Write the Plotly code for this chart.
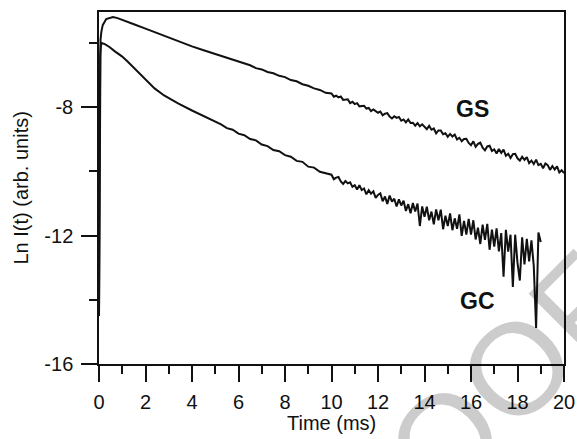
import plotly.graph_objects as go

# ---------------- data ----------------
# GS: early (smooth) part, explicit times
gs_t_early = [0.0, 0.01, 0.02, 0.035, 0.05, 0.065, 0.1, 0.16, 0.31, 0.6, 0.8, 1.0, 1.5, 2.0, 2.5,
              3.0, 3.5, 4.0, 4.5, 5.0, 5.25, 5.5, 5.75, 6.0, 6.25, 6.5, 6.75, 7.0, 7.25, 7.5,
              7.75, 8.0, 8.25, 8.5, 8.75, 9.0, 9.25, 9.5, 9.75]
gs_v_early = [-14.5, -12.0, -9.5, -7.5, -6.4, -5.9, -5.65, -5.44, -5.25, -5.19, -5.22, -5.28, -5.41,
              -5.55, -5.69, -5.82, -5.96, -6.10, -6.22, -6.34, -6.41, -6.45, -6.53, -6.57, -6.65,
              -6.69, -6.78, -6.82, -6.90, -6.94, -7.02, -7.06, -7.15, -7.19, -7.28, -7.33, -7.41,
              -7.46, -7.55]
# GS: noisy tail sampled every 0.1 ms from 10.0 to 20.0
gs_tail_start, gs_tail_step = 10.0, 0.1
gs_v_tail = [
    -7.57, -7.67, -7.64, -7.69, -7.66, -7.77, -7.77, -7.75, -7.87, -7.83,
    -7.90, -7.87, -7.97, -7.95, -7.95, -8.04, -8.02, -8.12, -8.07, -8.12,
    -8.17, -8.13, -8.25, -8.20, -8.18, -8.29, -8.35, -8.28, -8.33, -8.30,
    -8.42, -8.38, -8.47, -8.38, -8.49, -8.48, -8.57, -8.49, -8.59, -8.53,
    -8.61, -8.68, -8.58, -8.70, -8.66, -8.81, -8.72, -8.72, -8.84, -8.81,
    -8.92, -8.83, -8.91, -8.85, -9.00, -8.95, -9.06, -8.99, -8.98, -9.11,
    -9.18, -9.06, -9.23, -9.14, -9.10, -9.26, -9.34, -9.22, -9.20, -9.36,
    -9.31, -9.44, -9.30, -9.42, -9.32, -9.51, -9.45, -9.58, -9.46, -9.45,
    -9.59, -9.66, -9.54, -9.64, -9.55, -9.74, -9.66, -9.77, -9.63, -9.80,
    -9.76, -9.90, -9.75, -9.80, -9.95, -9.83, -9.94, -9.84, -10.03, -9.96,
    -10.05]

# GC: early (smooth) part
gc_t_early = [0.0, 0.01, 0.02, 0.035, 0.05, 0.08, 0.12, 0.25, 0.45, 0.67, 1.0, 1.24, 1.6, 2.0,
              2.39, 2.8, 3.4, 4.0, 4.5, 5.0, 5.25, 5.5, 5.75, 6.0, 6.25, 6.5, 6.75, 7.0, 7.25,
              7.5, 7.75, 8.0, 8.25, 8.5, 8.75, 9.0, 9.25, 9.5, 9.75]
gc_v_early = [-14.5, -12.5, -9.5, -7.2, -6.4, -6.08, -6.0, -6.03, -6.12, -6.25, -6.42, -6.58,
              -6.83, -7.12, -7.41, -7.63, -7.88, -8.10, -8.28, -8.46, -8.53, -8.65, -8.70,
              -8.82, -8.87, -8.99, -9.03, -9.16, -9.21, -9.33, -9.37, -9.49, -9.54, -9.67,
              -9.70, -9.85, -9.88, -10.01, -10.05]
# GC: noisy tail sampled every 0.1 ms from 10.0 to 19.0
gc_tail_start, gc_tail_step = 10.0, 0.1
gc_v_tail = [
    -10.10, -10.24, -10.19, -10.17, -10.31, -10.39, -10.30, -10.37, -10.34, -10.48,
    -10.43, -10.56, -10.43, -10.58, -10.53, -10.71, -10.58, -10.69, -10.62, -10.82,
    -10.73, -10.68, -10.93, -10.78, -11.01, -10.75, -10.94, -10.85, -11.09, -10.87,
    -11.06, -10.91, -11.23, -11.02, -11.30, -10.98, -11.25, -11.00, -11.70, -11.09,
    -11.41, -11.10, -11.52, -11.25, -11.65, -11.18, -11.52, -11.19, -11.80, -11.38,
    -11.70, -11.31, -11.83, -11.46, -11.79, -11.34, -12.01, -11.54, -11.97, -11.48,
    -11.97, -11.52, -12.12, -11.75, -12.26, -11.66, -12.13, -11.63, -12.44, -11.81,
    -12.34, -11.77, -12.49, -11.92, -13.28, -11.82, -12.50, -11.97, -13.60, -11.97,
    -12.85, -13.40, -12.05, -12.90, -12.10, -12.80, -12.15, -12.95, -14.88, -11.90,
    -12.20]

x_ticks = [0, 2, 4, 6, 8, 10, 12, 14, 16, 18, 20]
y_ticks = [-16, -12, -8]
labels = ["GS", "GC"]
label_pos_t = [16.06, 16.3]
label_pos_v = [-8.06, -14.04]
x_title = "Time (ms)"
y_title = "Ln I(t) (arb. units)"
watermark = "PROOF"

# ---------------- build series ----------------
gs_t = gs_t_early + [round(gs_tail_start + i * gs_tail_step, 3) for i in range(len(gs_v_tail))]
gs_v = gs_v_early + gs_v_tail
gc_t = gc_t_early + [round(gc_tail_start + i * gc_tail_step, 3) for i in range(len(gc_v_tail))]
gc_v = gc_v_early + gc_v_tail

FONT = "Liberation Sans, Arial, Helvetica, sans-serif"
INK = "#111111"
fig = go.Figure()

# faint diagonal proof watermark (only its end is inside the page)
fig.add_annotation(xref="paper", yref="paper", x=0.744, y=-0.216, text=watermark,
                   showarrow=False, xanchor="center", yanchor="middle", textangle=-45,
                   font=dict(family=FONT, size=130, color="rgba(0,0,0,0.2)"))

for t, v in [(gc_t, gc_v), (gs_t, gs_v)]:
    fig.add_trace(go.Scatter(x=t, y=v, mode="lines",
                             line=dict(color=INK, width=2),
                             showlegend=False, hoverinfo="skip"))

for txt, tx, ty in zip(labels, label_pos_t, label_pos_v):
    fig.add_annotation(x=tx, y=ty, text="<b>%s</b>" % txt, showarrow=False,
                       font=dict(family=FONT, size=23, color=INK))

# axis titles as paper annotations
fig.add_annotation(xref="paper", yref="paper", x=0.5, y=-0.169, text=x_title,
                   showarrow=False, xanchor="center", yanchor="middle",
                   font=dict(family=FONT, size=20, color=INK))
fig.add_annotation(xref="paper", yref="paper", x=-0.168, y=0.501, text=y_title,
                   showarrow=False, xanchor="center", yanchor="middle", textangle=-90,
                   font=dict(family=FONT, size=20, color=INK))

fig.update_layout(
    width=577, height=439,
    margin=dict(l=99, r=13, t=12, b=75, autoexpand=False),
    paper_bgcolor="white", plot_bgcolor="white",
    font=dict(family=FONT, size=20, color=INK),
)
fig.update_xaxes(
    range=[0, 20], tickvals=x_ticks, ticktext=[str(v) for v in x_ticks],
    ticks="outside", ticklen=16, tickwidth=1.5, tickcolor=INK,
    minor=dict(dtick=1, tick0=0, ticks="outside", ticklen=8, tickwidth=1.5, tickcolor=INK),
    showline=True, linecolor=INK, linewidth=1.5, mirror=True,
    showgrid=False, zeroline=False, ticklabelstandoff=3, automargin=False,
)
fig.update_yaxes(
    range=[-16, -5.03], tickvals=y_ticks, ticktext=[str(v) for v in y_ticks],
    ticks="outside", ticklen=16, tickwidth=1.5, tickcolor=INK,
    minor=dict(dtick=2, tick0=-16, ticks="outside", ticklen=8, tickwidth=1.5, tickcolor=INK),
    showline=True, linecolor=INK, linewidth=1.5, mirror=True,
    showgrid=False, zeroline=False, ticklabelstandoff=4, automargin=False,
)

# remove the default 8px page margin so the figure sits at the window's top-left corner
fig.write_html("out.html", config={"displayModeBar": False},
               post_script="document.body.style.margin='0';")
